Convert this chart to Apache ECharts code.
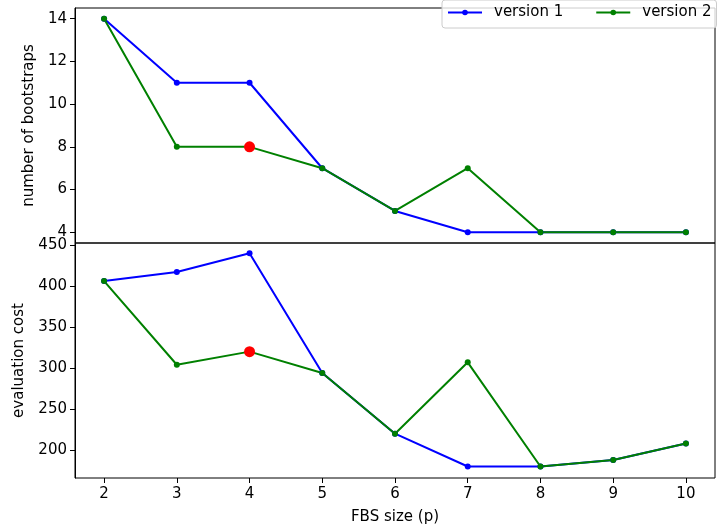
<!DOCTYPE html>
<html>
<head>
<meta charset="utf-8">
<script src="https://cdn.jsdelivr.net/npm/echarts@6/dist/echarts.min.js"></script>
<style>
html,body{margin:0;padding:0;background:#fff;}
#c{width:717px;height:531px;}
</style>
</head>
<body>
<div id="c"></div>
<script>
// ---- data ----
const fbsSize = [2, 3, 4, 5, 6, 7, 8, 9, 10];
const bootV1 = [14, 11, 11, 7, 5, 4, 4, 4, 4];
const bootV2 = [14, 8, 8, 7, 5, 7, 4, 4, 4];
const costV1 = [406, 417, 440, 294, 220, 180, 180, 188, 208];
const costV2 = [406, 304, 320, 294, 220, 307, 180, 188, 208];
const highlightX = [4];
const highlightBoot = [8];
const highlightCost = [320];
const xTicks = [2, 3, 4, 5, 6, 7, 8, 9, 10];
const bootTicks = [4, 6, 8, 10, 12, 14];
const costTicks = [200, 250, 300, 350, 400, 450];
const seriesNames = ['version 1', 'version 2'];
const xLabel = 'FBS size (p)';
const bootLabel = 'number of bootstraps';
const costLabel = 'evaluation cost';

const FONT = 'DejaVu Sans';
const zip = (xs, ys) => xs.map((x, i) => [x, ys[i]]);

const chart = echarts.init(document.getElementById('c'), null, {renderer: 'canvas'});

const baseX = {
  type: 'value', min: 1.6, max: 10.4,
  splitLine: {show: false},
  axisLine: {show: false},
};
const yCommon = {
  type: 'value',
  splitLine: {show: false},
  axisLine: {show: true, lineStyle: {color: '#000', width: 1}},
  axisTick: {show: true, length: 5, lineStyle: {color: '#000', width: 1}},
  axisLabel: {color: '#000', fontSize: 15, fontFamily: FONT, margin: 8},
  nameLocation: 'middle',
  nameTextStyle: {color: '#000', fontSize: 15, fontFamily: FONT},
};

const lineStyleFor = (color) => ({
  type: 'line',
  symbol: 'circle',
  symbolSize: 6,
  showSymbol: true,
  color: color,
  itemStyle: {color: color, opacity: 1},
  lineStyle: {color: color, width: 2},
  animation: false,
  z: 2,
});

const option = {
  animation: false,
  backgroundColor: '#fff',
  textStyle: {fontFamily: FONT},
  grid: [
    {left: 75, right: 2, top: 8, height: 235, show: true, borderColor: '#000', borderWidth: 1, backgroundColor: 'transparent'},
    {left: 75, right: 2, top: 243, height: 235, show: true, borderColor: '#000', borderWidth: 1, backgroundColor: 'transparent'},
  ],
  legend: {
    data: seriesNames,
    left: 442, top: 0,
    padding: [5, 5, 8, 5],
    itemWidth: 34, itemHeight: 7,
    itemGap: 32,
    backgroundColor: 'rgba(255,255,255,0.8)',
    borderColor: '#cccccc', borderWidth: 1, borderRadius: 3,
    textStyle: {color: '#000', fontSize: 15, fontFamily: FONT, padding: [0, 0, 0, 7]},
  },
  xAxis: [
    Object.assign({}, baseX, {gridIndex: 0, axisTick: {show: false}, axisLabel: {show: false}}),
    Object.assign({}, baseX, {
      gridIndex: 1,
      axisTick: {show: true, length: 5, customValues: xTicks, lineStyle: {color: '#000', width: 1}},
      axisLabel: {show: true, customValues: xTicks, color: '#000', fontSize: 15, fontFamily: FONT, margin: 9},
      name: xLabel, nameLocation: 'middle', nameGap: 32,
      nameTextStyle: {color: '#000', fontSize: 15, fontFamily: FONT},
    }),
  ],
  yAxis: [
    Object.assign({}, yCommon, {
      gridIndex: 0, min: 3.5, max: 14.5, name: bootLabel, nameGap: 37,
      axisTick: Object.assign({}, yCommon.axisTick, {customValues: bootTicks}),
      axisLabel: Object.assign({}, yCommon.axisLabel, {customValues: bootTicks}),
    }),
    Object.assign({}, yCommon, {
      gridIndex: 1, min: 166, max: 452.4, name: costLabel, nameGap: 48,
      axisTick: Object.assign({}, yCommon.axisTick, {customValues: costTicks}),
      axisLabel: Object.assign({}, yCommon.axisLabel, {customValues: costTicks}),
    }),
  ],
  series: [
    Object.assign(lineStyleFor('#0000ff'), {name: seriesNames[0], xAxisIndex: 0, yAxisIndex: 0, data: zip(fbsSize, bootV1)}),
    Object.assign(lineStyleFor('#008000'), {name: seriesNames[1], xAxisIndex: 0, yAxisIndex: 0, data: zip(fbsSize, bootV2)}),
    Object.assign(lineStyleFor('#0000ff'), {name: seriesNames[0], xAxisIndex: 1, yAxisIndex: 1, data: zip(fbsSize, costV1)}),
    Object.assign(lineStyleFor('#008000'), {name: seriesNames[1], xAxisIndex: 1, yAxisIndex: 1, data: zip(fbsSize, costV2)}),
    {type: 'scatter', xAxisIndex: 0, yAxisIndex: 0, symbol: 'circle', symbolSize: 11,
      itemStyle: {color: '#ff0000', opacity: 1}, data: zip(highlightX, highlightBoot), z: 5},
    {type: 'scatter', xAxisIndex: 1, yAxisIndex: 1, symbol: 'circle', symbolSize: 11,
      itemStyle: {color: '#ff0000', opacity: 1}, data: zip(highlightX, highlightCost), z: 5},
  ],
};
chart.setOption(option);
</script>
</body>
</html>
